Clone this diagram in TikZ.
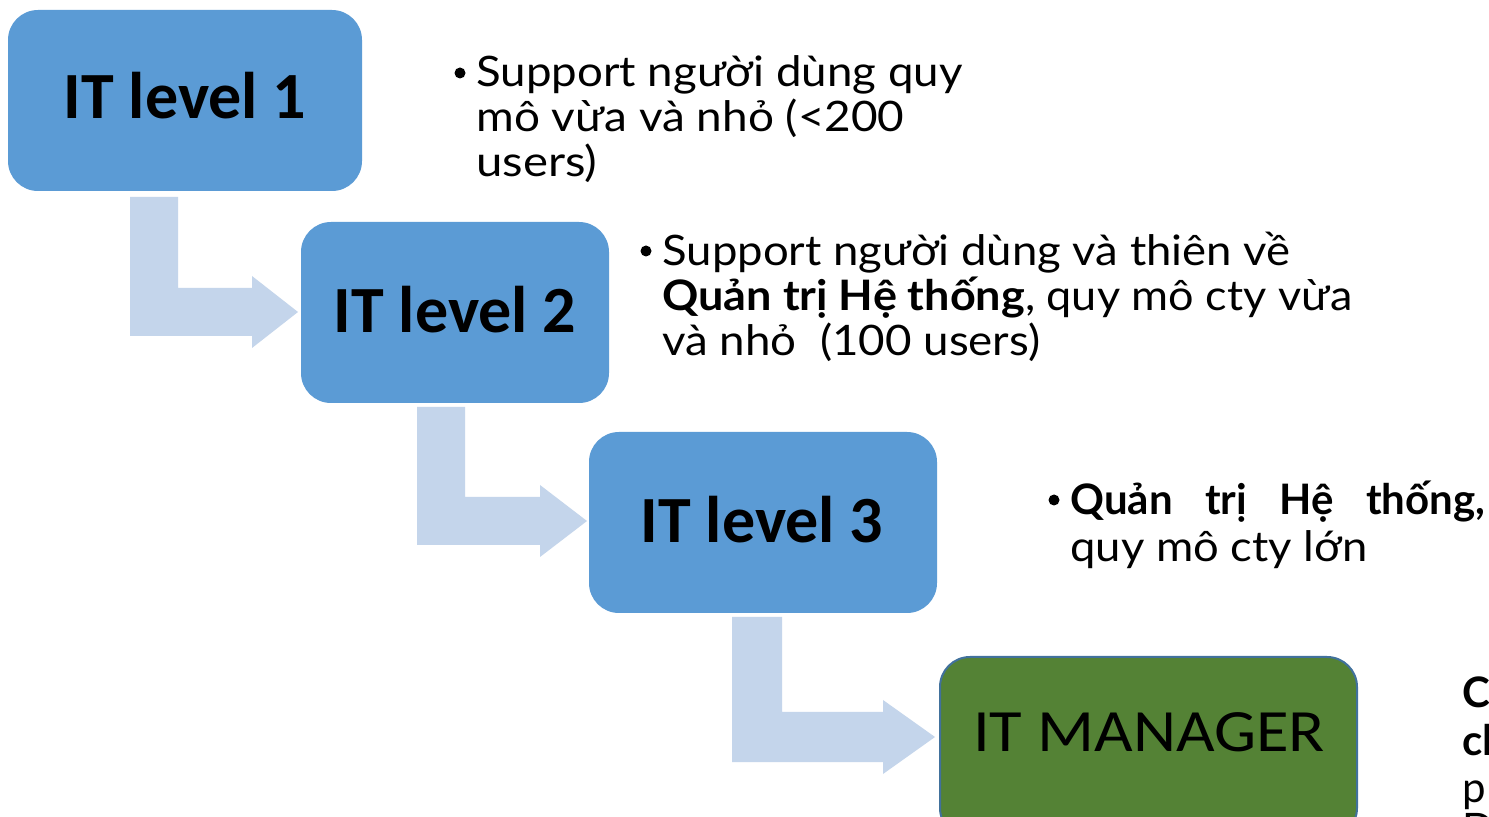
\documentclass[tikz,border=0pt]{standalone}
\usepackage{fontspec}
\usepackage{graphicx}
\newfontfamily\bodyfont{Lato}
\newfontfamily\boxfont{Carlito}
\definecolor{boxblue}{HTML}{5B9BD5}
\definecolor{arrowblue}{HTML}{C4D5EB}
\definecolor{mgrgreen}{HTML}{548235}
\definecolor{mgrborder}{HTML}{41719C}
\tikzset{
  lvlbox/.style={fill=boxblue, draw=none, rounded corners=15pt, inner sep=0},
  mgrbox/.style={fill=mgrgreen, draw=mgrborder, line width=1pt, rounded corners=15pt, inner sep=0},
  bentarrow/.style={fill=arrowblue, draw=none},
  lvltext/.style={font=\boxfont\bfseries\fontsize{33}{33}\selectfont, anchor=base, inner sep=0},
  mgrtext/.style={font=\boxfont\fontsize{30}{30}\selectfont, anchor=base, inner sep=0},
  body/.style={font=\bodyfont\fontsize{21}{21}\selectfont, anchor=base west, inner sep=0},
  bodybold/.style={font=\bodyfont\bfseries\fontsize{21}{21}\selectfont, anchor=base west, inner sep=0},
  bul/.style={circle, fill=black, draw=none, inner sep=0, minimum size=5.5pt}
}
% xL, w, yT, yc, h, xH, H, xT
\newcommand\bentshape[8]{%
  \fill[bentarrow] (#1,#3) -- ({#1+#2},#3) -- ({#1+#2},{#4-#5}) -- (#6,{#4-#5}) -- (#6,{#4-#7})
    -- (#8,#4) -- (#6,{#4+#7}) -- (#6,{#4+#5}) -- (#1,{#4+#5}) -- cycle;}
\newcommand\fitline[2]{\resizebox{#1pt}{\height}{#2}}
\begin{document}
\begin{tikzpicture}[x=0.5pt,y=-0.5pt]
\useasboundingbox (0,0) rectangle (1489,817);
\clip (0,0) rectangle (1489,817);
\fill[white] (0,0) rectangle (1489,817);

% boxes
\node[lvlbox, minimum width=177pt, minimum height=90.5pt] (b1) at (185,100.5) {};
\node[lvlbox, minimum width=154pt, minimum height=90.5pt] (b2) at (455,312.5) {};
\node[lvlbox, minimum width=174pt, minimum height=90.5pt] (b3) at (763,522.5) {};
\node[mgrbox, minimum width=208.5pt, minimum height=90.5pt] (b4) at (1148.5,747.5) {};

\node[lvltext] (l1) at (185,119) {IT level 1};
\node[lvltext] (l2) at (455,333) {IT level 2};
\node[lvltext] (l3) at (762,543) {IT level 3};
\node[mgrtext] (l4) at (1149,751) {\resizebox{176pt}{\height}{IT MANAGER}};

% bent arrows
\bentshape{130}{48}{197}{312}{24}{252}{36}{298}
\bentshape{417}{48}{407}{521}{24}{540}{36}{587}
\bentshape{732}{50}{617}{737}{25}{883}{37}{935}

% text 1
\node[bul] (d1) at (460,73) {};
\node[body] (t1a) at (476,87) {\fitline{243}{Support người dùng quy}};
\node[body] (t1b) at (476,132) {\fitline{214}{mô vừa và nhỏ (<200}};
\node[body] (t1c) at (476,177) {\fitline{60.5}{users)}};

% text 2
\node[bul] (d2) at (646,251) {};
\node[body] (t2a) at (662,266) {\fitline{314}{Support người dùng và thiên về}};
\node[body] (t2b) at (662,311) {\fitline{345}{\textbf{Quản trị Hệ thống}, quy mô cty vừa}};
\node[body] (t2c) at (662,356) {\fitline{189}{và nhỏ\ \ (100 users)}};

% text 3
\node[bul] (d3) at (1054,500) {};
\node[bodybold] (t3a) at (1070,515) {\makebox[207.5pt][s]{Quản\hfill trị\hfill Hệ\hfill thống,}};
\node[body] (t3b) at (1070,562) {\fitline{148.5}{quy mô cty lớn}};

% text 4 (cut by the edge, as in the reference)
\node[bodybold] (t4a) at (1462,708) {C};
\node[bodybold] (t4b) at (1462,755) {cl};
\node[body] (t4c) at (1462,802) {p};
\node[body] (t4d) at (1462,843) {D};
\end{tikzpicture}
\end{document}
